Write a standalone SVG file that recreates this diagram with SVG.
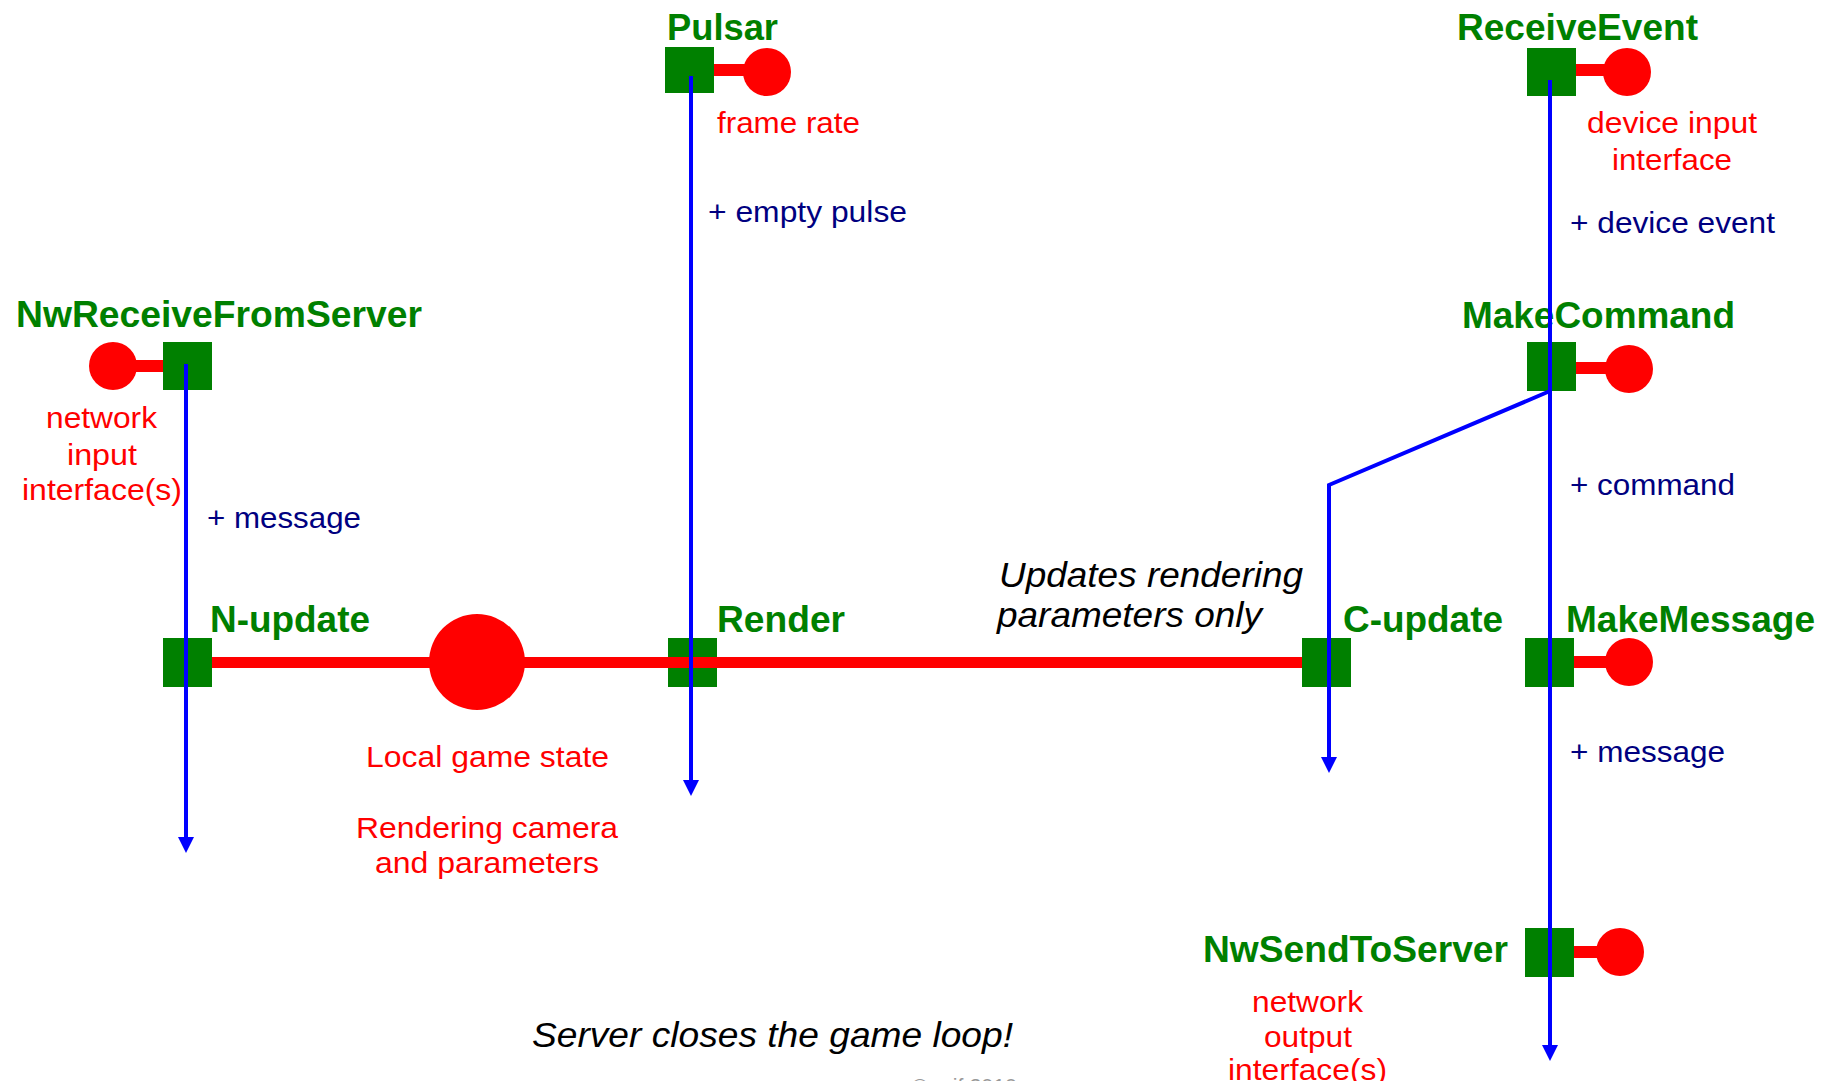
<svg xmlns="http://www.w3.org/2000/svg" width="1824" height="1081" viewBox="0 0 1824 1081">
<style>
.sq{fill:#008000}
.port{fill:#ff0000}
.bar{stroke:#ff0000;stroke-width:12}
.name{font-family:"Liberation Sans",Arial,sans-serif;font-weight:bold;font-size:36px;fill:#008000}
.red{font-family:"Liberation Sans",Arial,sans-serif;font-size:30px;fill:#ff0000}
.navy{font-family:"Liberation Sans",Arial,sans-serif;font-size:30px;fill:#000080}
.note{font-family:"Liberation Sans",Arial,sans-serif;font-style:italic;font-size:35px;fill:#000000}
.flow{fill:none;stroke:#0000ff;stroke-width:4}
.state{stroke:#ff0000;stroke-width:11}
</style>
<defs>
<marker id="arr" viewBox="0 0 16 16" markerWidth="16" markerHeight="16" refX="2" refY="8" orient="auto" markerUnits="userSpaceOnUse">
<path d="M0,0 L16,8 L0,16 z" fill="#0000ff"/>
</marker>
</defs>
<rect width="1824" height="1081" fill="#ffffff"/>

<g id="pulsar">
<line class="bar" x1="714" y1="70" x2="750" y2="70"/>
<rect class="sq" x="665" y="47" width="49" height="46"/>
<circle class="port" cx="767" cy="72" r="24"/>
<text class="name" x="667" y="40" textLength="111" lengthAdjust="spacingAndGlyphs">Pulsar</text>
<text class="red" x="717" y="133" textLength="143" lengthAdjust="spacingAndGlyphs">frame rate</text>
</g>

<g id="receiveEvent">
<line class="bar" x1="1576" y1="70" x2="1610" y2="70"/>
<rect class="sq" x="1527" y="48" width="49" height="48"/>
<circle class="port" cx="1627" cy="72" r="24"/>
<text class="name" x="1457" y="40" textLength="241" lengthAdjust="spacingAndGlyphs">ReceiveEvent</text>
<text class="red" x="1587" y="133" textLength="170" lengthAdjust="spacingAndGlyphs">device input</text>
<text class="red" x="1612" y="170" textLength="120" lengthAdjust="spacingAndGlyphs">interface</text>
</g>

<g id="nwReceiveFromServer">
<line class="bar" x1="120" y1="366" x2="163" y2="366"/>
<rect class="sq" x="163" y="342" width="49" height="48"/>
<circle class="port" cx="113" cy="366" r="24"/>
<text class="name" x="16" y="327" textLength="406" lengthAdjust="spacingAndGlyphs">NwReceiveFromServer</text>
<text class="red" x="46" y="428" textLength="111" lengthAdjust="spacingAndGlyphs">network</text>
<text class="red" x="67" y="465" textLength="70" lengthAdjust="spacingAndGlyphs">input</text>
<text class="red" x="22" y="500" textLength="160" lengthAdjust="spacingAndGlyphs">interface(s)</text>
</g>

<g id="makeCommand">
<line class="bar" x1="1576" y1="368" x2="1612" y2="368"/>
<rect class="sq" x="1527" y="342" width="49" height="49"/>
<circle class="port" cx="1629" cy="369" r="24"/>
<text class="name" x="1462" y="328" textLength="273" lengthAdjust="spacingAndGlyphs">MakeCommand</text>
</g>

<g id="nUpdate">
<rect class="sq" x="163" y="638" width="49" height="49"/>
<text class="name" x="210" y="632" textLength="160" lengthAdjust="spacingAndGlyphs">N-update</text>
</g>

<g id="localGameState">
<circle class="port" cx="477" cy="662" r="48"/>
<text class="red" x="366" y="767" textLength="243" lengthAdjust="spacingAndGlyphs">Local game state</text>
<text class="red" x="356" y="838" textLength="262" lengthAdjust="spacingAndGlyphs">Rendering camera</text>
<text class="red" x="375" y="873" textLength="224" lengthAdjust="spacingAndGlyphs">and parameters</text>
</g>

<g id="render">
<rect class="sq" x="668" y="638" width="49" height="49"/>
<text class="name" x="717" y="632" textLength="128" lengthAdjust="spacingAndGlyphs">Render</text>
</g>

<g id="cUpdate">
<rect class="sq" x="1302" y="638" width="49" height="49"/>
<text class="name" x="1343" y="632" textLength="160" lengthAdjust="spacingAndGlyphs">C-update</text>
</g>

<g id="makeMessage">
<line class="bar" x1="1574" y1="662" x2="1610" y2="662"/>
<rect class="sq" x="1525" y="638" width="49" height="49"/>
<circle class="port" cx="1629" cy="662" r="24"/>
<text class="name" x="1566" y="632" textLength="249" lengthAdjust="spacingAndGlyphs">MakeMessage</text>
</g>

<g id="nwSendToServer">
<line class="bar" x1="1574" y1="952" x2="1602" y2="952"/>
<rect class="sq" x="1525" y="928" width="49" height="49"/>
<circle class="port" cx="1620" cy="952" r="24"/>
<text class="name" x="1203" y="962" textLength="305" lengthAdjust="spacingAndGlyphs">NwSendToServer</text>
<text class="red" x="1252" y="1012" textLength="111" lengthAdjust="spacingAndGlyphs">network</text>
<text class="red" x="1264" y="1047" textLength="88" lengthAdjust="spacingAndGlyphs">output</text>
<text class="red" x="1228" y="1080" textLength="159" lengthAdjust="spacingAndGlyphs">interface(s)</text>
</g>

<g id="connectors">
<line class="state" x1="212" y1="662.5" x2="1302" y2="662.5"/>
<line class="flow" x1="186" y1="364" x2="186" y2="839" marker-end="url(#arr)"/>
<line class="flow" x1="691" y1="76" x2="691" y2="782" marker-end="url(#arr)"/>
<polyline class="flow" points="1550,391 1329,485 1329,759" marker-end="url(#arr)"/>
<line class="flow" x1="1550" y1="80" x2="1550" y2="1047" marker-end="url(#arr)"/>
<text class="navy" x="708" y="222" textLength="199" lengthAdjust="spacingAndGlyphs">+ empty pulse</text>
<text class="navy" x="1570" y="233" textLength="205" lengthAdjust="spacingAndGlyphs">+ device event</text>
<text class="navy" x="207" y="528" textLength="154" lengthAdjust="spacingAndGlyphs">+ message</text>
<text class="navy" x="1570" y="495" textLength="165" lengthAdjust="spacingAndGlyphs">+ command</text>
<text class="navy" x="1570" y="762" textLength="155" lengthAdjust="spacingAndGlyphs">+ message</text>
</g>

<g id="notes">
<text class="note" x="999" y="587" textLength="304" lengthAdjust="spacingAndGlyphs">Updates rendering</text>
<text class="note" x="997" y="627" textLength="265" lengthAdjust="spacingAndGlyphs">parameters only</text>
<text class="note" x="532" y="1047" textLength="481" lengthAdjust="spacingAndGlyphs">Server closes the game loop!</text>
<text x="912" y="1093" font-family="Liberation Sans, Arial, sans-serif" font-size="21" fill="#999999" textLength="105" lengthAdjust="spacingAndGlyphs">© raif 2010</text>
</g>
</svg>
